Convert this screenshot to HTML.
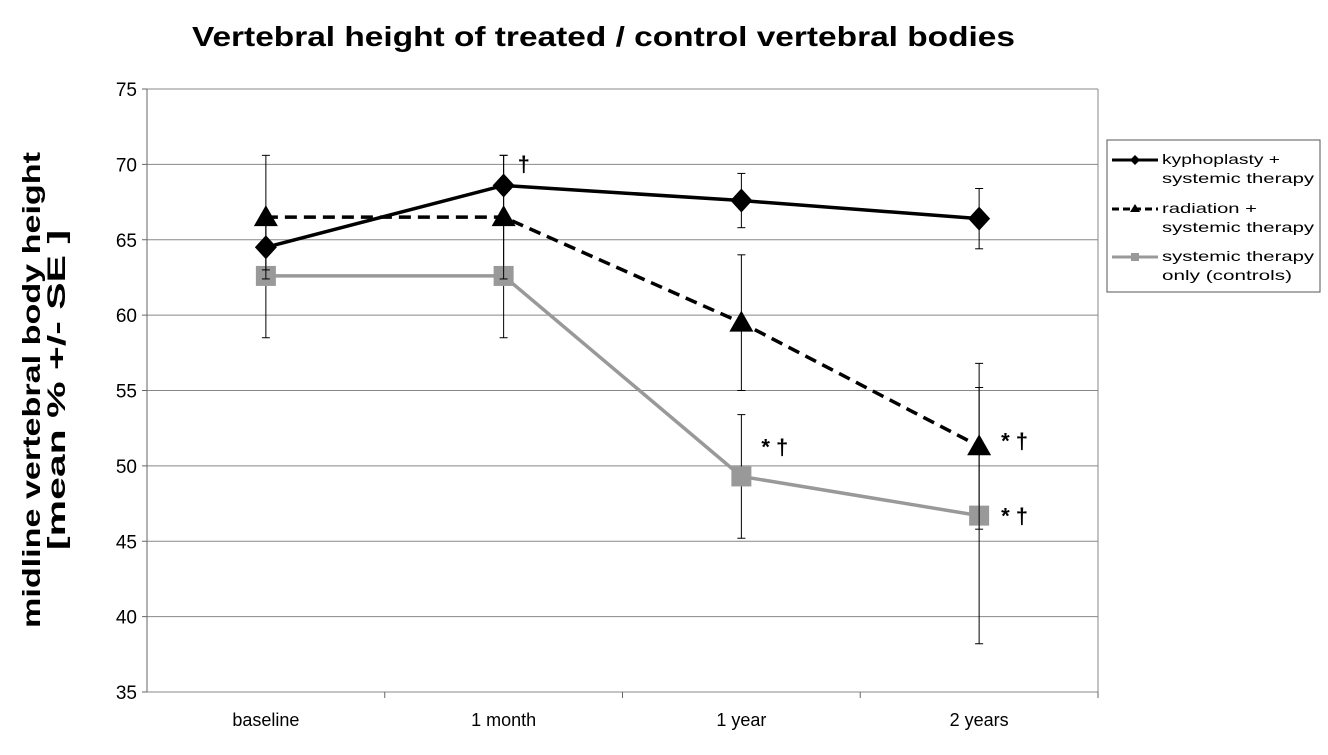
<!DOCTYPE html>
<html><head><meta charset="utf-8"><style>
body{margin:0;background:#fff;font-family:"Liberation Sans",sans-serif;}
svg text{font-family:"Liberation Sans",sans-serif;}
</style></head><body>
<svg id="chart" width="1328" height="750">
<text x="192" y="46" font-size="28" font-weight="bold" textLength="823" lengthAdjust="spacingAndGlyphs">Vertebral height of treated / control vertebral bodies</text>
<g transform="translate(40,390) rotate(-90)">
<text x="-238" y="0" font-size="25" font-weight="bold" textLength="476" lengthAdjust="spacingAndGlyphs">midline vertebral body height</text>
<text x="-160" y="25" font-size="25" font-weight="bold" textLength="320" lengthAdjust="spacingAndGlyphs">[mean % +/- SE ]</text>
</g>
<g id="grid"></g><g id="axes"></g><g id="series"></g>
<g>
<rect x="1107" y="140" width="213" height="152" fill="#fff" stroke="#555" stroke-width="1"/>
<line x1="1112" y1="160" x2="1158" y2="160" stroke="#000" stroke-width="3"/><path d="M1135 155 L1140 160 L1135 165 L1130 160Z" fill="#000"/>
<text x="1162" y="164" font-size="14" textLength="118" lengthAdjust="spacingAndGlyphs">kyphoplasty +</text><text x="1162" y="183" font-size="14" textLength="152" lengthAdjust="spacingAndGlyphs">systemic therapy</text>
<line x1="1112" y1="209" x2="1158" y2="209" stroke="#000" stroke-width="3" stroke-dasharray="7,4"/><path d="M1135 204 L1140 212 L1130 212Z" fill="#000"/>
<text x="1162" y="213" font-size="14" textLength="95" lengthAdjust="spacingAndGlyphs">radiation +</text><text x="1162" y="232" font-size="14" textLength="152" lengthAdjust="spacingAndGlyphs">systemic therapy</text>
<line x1="1112" y1="257" x2="1158" y2="257" stroke="#999" stroke-width="3"/><rect x="1131" y="253" width="8" height="8" fill="#999"/>
<text x="1162" y="261" font-size="14" textLength="152" lengthAdjust="spacingAndGlyphs">systemic therapy</text><text x="1162" y="280" font-size="14" textLength="130" lengthAdjust="spacingAndGlyphs">only (controls)</text>
</g>
</svg>
<script>
const categories=["baseline","1 month","1 year","2 years"];
const kypho=[64.5,68.6,67.6,66.4];
const kyphoErr=[1.5,2.0,1.8,2.0];
const radiation=[66.5,66.5,59.5,51.3];
const radiationErr=[4.1,4.1,4.5,5.5];
const controls=[62.6,62.6,49.3,46.7];
const controlsErr=[4.1,4.1,4.1,8.5];
const yTicks=[35,40,45,50,55,60,65,70,75];
const notes=[["†",1,"kypho",14,-14],["* †",2,"controls",20,-22],["* †",3,"radiation",22,2],["* †",3,"controls",22,8]];
const NS="http://www.w3.org/2000/svg";
const L=147,R=1098,T=89,B=692;
const y=v=>B-(v-35)/(75-35)*(B-T);
const bw=(R-L)/categories.length;
const x=i=>L+bw*(i+0.5);
function mk(tag,at,parent){const e=document.createElementNS(NS,tag);for(const k in at)e.setAttribute(k,at[k]);parent.appendChild(e);return e;}
const grid=document.getElementById('grid'),axes=document.getElementById('axes'),ser=document.getElementById('series');
yTicks.forEach(t=>{
 const g=mk('line',{x1:L,x2:R,y1:y(t),y2:y(t),stroke:'#888','stroke-width':1},grid);
 
 
 const tx=mk('text',{x:L-10,y:y(t)+7,'text-anchor':'end','font-size':19},axes);tx.textContent=t;
 
 
 mk('line',{x1:L-5,x2:L,y1:y(t),y2:y(t),stroke:'#666'},axes);
});
mk('line',{x1:L,x2:L,y1:T,y2:B,stroke:'#666'},axes);
mk('line',{x1:R,x2:R,y1:T,y2:B,stroke:'#888'},axes);
categories.forEach((c,i)=>{
 const tx=mk('text',{x:x(i),y:B+34,'text-anchor':'middle','font-size':18},axes);tx.textContent=c;
 
 
 mk('line',{x1:L+bw*(i+1),x2:L+bw*(i+1),y1:B,y2:B+6,stroke:'#666'},axes);
});
function series(vals,errs,color,dash,marker,name){
 const g=mk('g',{},ser);
 
 
 vals.forEach((v,i)=>{
  mk('line',{x1:x(i),x2:x(i),y1:y(v-errs[i]),y2:y(v+errs[i]),stroke:'#000','stroke-width':1},g);
  [v-errs[i],v+errs[i]].forEach(e=>mk('line',{x1:x(i)-4,x2:x(i)+4,y1:y(e),y2:y(e),stroke:'#000'},g));
 });
 const p=mk('polyline',{points:vals.map((v,i)=>x(i)+','+y(v)).join(' '),fill:'none',stroke:color,'stroke-width':3.5},g);
 if(dash)p.setAttribute('stroke-dasharray',dash);
 vals.forEach((v,i)=>{
  const cx=x(i),cy=y(v);let m;
  if(marker==='d')m=mk('path',{d:`M${cx} ${cy-12}L${cx+11} ${cy}L${cx} ${cy+12}L${cx-11} ${cy}Z`,fill:color},g);
  else if(marker==='t')m=mk('path',{d:`M${cx} ${cy-12}L${cx+12} ${cy+9}L${cx-12} ${cy+9}Z`,fill:color},g);
  else m=mk('rect',{x:cx-10,y:cy-10,width:20,height:20,fill:color},g);
  
  
 });
}
series(controls,controlsErr,'#999',null,'s','controls');
series(radiation,radiationErr,'#000','12,7','t','radiation');
series(kypho,kyphoErr,'#000',null,'d','kyphoplasty');
const map={kypho,radiation,controls};
notes.forEach(n=>{
 const t=mk('text',{x:x(n[1])+n[3],y:y(map[n[2]][n[1]])+n[4],'font-size':22,'font-weight':'bold'},ser);
 t.textContent=n[0];
 
 
});
</script>
</body></html>
